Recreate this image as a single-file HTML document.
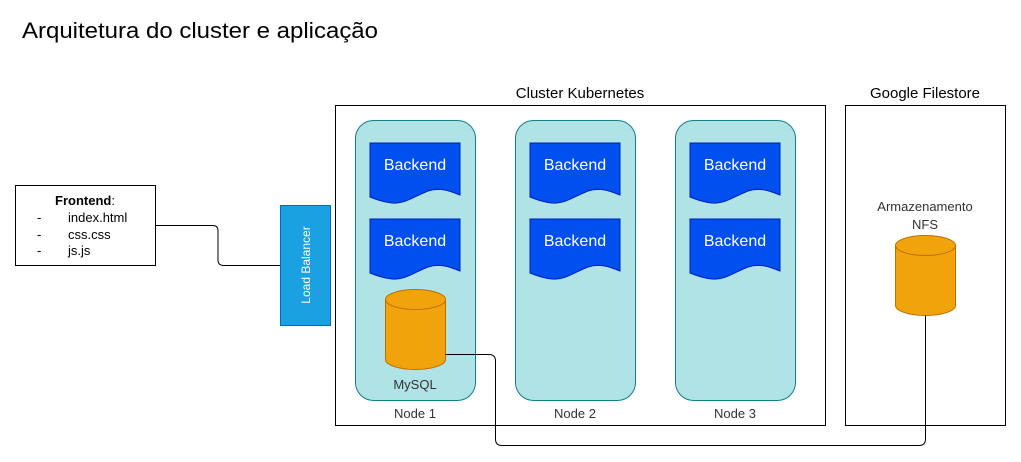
<!DOCTYPE html>
<html><head><meta charset="utf-8"><style>
body{margin:0;background:#fff;}
svg{display:block;font-family:"Liberation Sans",Arial,sans-serif;}
</style></head><body>
<svg width="1021" height="462" viewBox="0 0 1021 462" xmlns="http://www.w3.org/2000/svg">
<defs>
<g id="doc">
<path d="M0,0 H90 V52 C80,48 70,44 58,48 C45,53 35,61 22,60 C12,59 5,56 0,54 Z" fill="#0050ef" stroke="#001dbc" stroke-width="1"/>
<text x="45" y="27" fill="#fff" font-size="16" text-anchor="middle">Backend</text>
</g>
<g id="cyl">
<path d="M0,10 A30,10 0 0 1 60,10 V70 A30,10 0 0 1 0,70 Z" fill="#f0a30a" stroke="#bd7000"/>
<path d="M0,10 A30,10 0 0 0 60,10" fill="none" stroke="#bd7000"/>
</g>
</defs>
<text x="22" y="38" font-size="22" fill="#000" textLength="356" lengthAdjust="spacingAndGlyphs">Arquitetura do cluster e aplicação</text>

<rect x="15.5" y="185.5" width="140" height="80" fill="#fff" stroke="#000"/>
<text x="85" y="205" font-size="13" text-anchor="middle"><tspan font-weight="bold">Frontend</tspan>:</text>
<g font-size="13" fill="#000">
<text x="37" y="222">-</text><text x="68" y="222">index.html</text>
<text x="37" y="239">-</text><text x="68" y="239">css.css</text>
<text x="37" y="255">-</text><text x="68" y="255">js.js</text>
</g>
<path d="M155.5,225.5 H213 Q218,225.5 218,231 V260 Q218,265.5 224,265.5 H280" fill="none" stroke="#000"/>

<rect x="280.5" y="205.5" width="50" height="120" fill="#1ba1e2" stroke="#006eaf"/>
<text transform="translate(310,265) rotate(-90)" font-size="12" fill="#fff" text-anchor="middle">Load Balancer</text>

<text x="580" y="98" font-size="15" text-anchor="middle">Cluster Kubernetes</text>
<rect x="335.5" y="105.5" width="490" height="320" fill="#fff" stroke="#000"/>

<g fill="#b0e3e6" stroke="#0e8088">
<rect x="355.5" y="120.5" width="120" height="280" rx="18"/>
<rect x="515.5" y="120.5" width="120" height="280" rx="18"/>
<rect x="675.5" y="120.5" width="120" height="280" rx="18"/>
</g>
<use href="#doc" x="370" y="143"/><use href="#doc" x="370" y="219"/>
<use href="#doc" x="530" y="143"/><use href="#doc" x="530" y="219"/>
<use href="#doc" x="690" y="143"/><use href="#doc" x="690" y="219"/>
<use href="#cyl" x="385.5" y="289.5"/>
<text x="415" y="389" font-size="13" fill="#333" text-anchor="middle">MySQL</text>
<g font-size="13" fill="#333" text-anchor="middle">
<text x="415" y="418">Node 1</text><text x="575" y="418">Node 2</text><text x="735" y="418">Node 3</text>
</g>

<text x="925" y="98" font-size="15" text-anchor="middle">Google Filestore</text>
<rect x="845.5" y="105.5" width="160" height="320" fill="#fff" stroke="#000"/>
<text x="925" y="211" font-size="13" fill="#333" text-anchor="middle">Armazenamento</text>
<text x="925" y="229" font-size="13" fill="#333" text-anchor="middle">NFS</text>
<use href="#cyl" x="895.5" y="235.5"/>

<path d="M445.5,354.5 H489 Q495.5,354.5 495.5,361 V439 Q495.5,445.5 502,445.5 H919 Q925.5,445.5 925.5,439 V315.5" fill="none" stroke="#000"/>
</svg>
</body></html>
